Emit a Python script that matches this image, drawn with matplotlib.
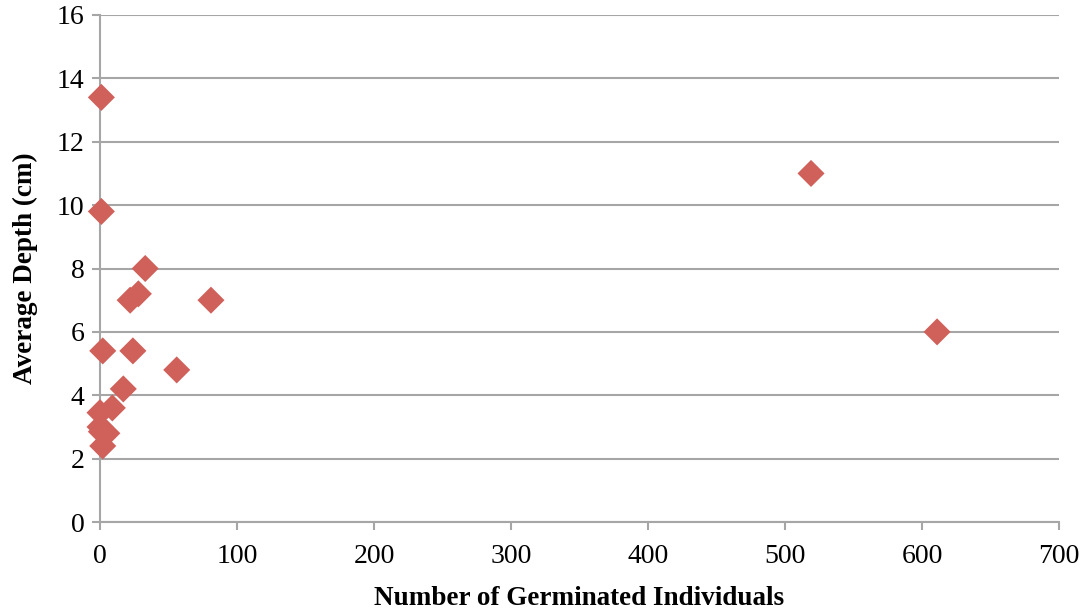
import matplotlib
matplotlib.use("Agg")
import matplotlib.pyplot as plt

germinated = [1, 1, 519, 611, 33, 28, 22, 81, 2, 24, 56, 17, 9, 0, 0, 5, 1, 2]
depth = [13.4, 9.8, 11.0, 6.0, 8.0, 7.2, 7.0, 7.0, 5.4, 5.4, 4.8, 4.2, 3.6, 3.45, 3.0, 2.8, 2.85, 2.4]

plt.rcParams['font.family'] = ['Liberation Serif', 'DejaVu Serif']

fig = plt.figure(figsize=(10.91, 6.13), dpi=100)
ax = fig.add_axes([100/1091, 1 - 522/613, (1059-100)/1091, (522-15)/613])

grid_c = '#A6A6A6'
ax.scatter(germinated, depth, marker='D', s=190, color='#D0605A', edgecolors='none', zorder=3, clip_on=False)

ax.set_xlim(0, 700)
ax.set_ylim(0, 16)
ax.set_xticks(range(0, 701, 100))
ax.set_yticks(range(0, 17, 2))
ax.yaxis.grid(True, color=grid_c, linewidth=1.5)
ax.set_axisbelow(True)
for s in ['top', 'right']:
    ax.spines[s].set_visible(False)
for s in ['left', 'bottom']:
    ax.spines[s].set_color(grid_c)
    ax.spines[s].set_linewidth(1.5)
ax.tick_params(axis='both', colors=grid_c, labelcolor='black', labelsize=20, width=1.5, length=6)
ax.tick_params(axis='x', pad=10)
ax.tick_params(axis='y', pad=5)

ax.set_xlabel('Number of Germinated Individuals', fontsize=19.5, fontweight='bold', labelpad=12)
ax.set_ylabel('Average Depth (cm)', fontsize=19.5, fontweight='bold', labelpad=14)

fig.savefig('out.png', dpi=100)
